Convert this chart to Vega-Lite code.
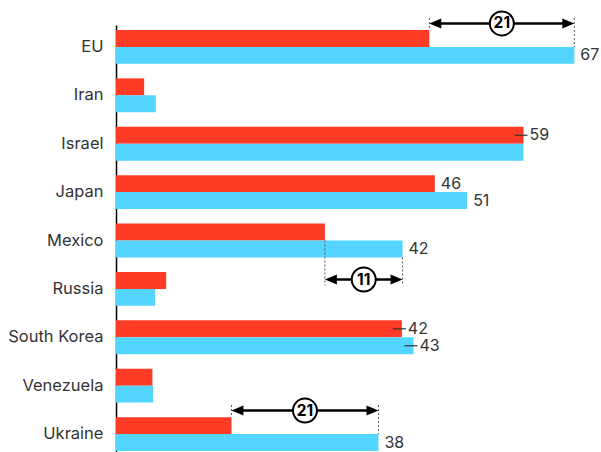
{
  "$schema": "https://vega.github.io/schema/vega-lite/v6.json",
  "width": 481,
  "height": 427,
  "autosize": {"type": "none"},
  "padding": {"top": 25, "left": 116, "right": 4, "bottom": 0},
  "config": {"view": {"stroke": null}, "font": "Inter"},
  "datasets": {
    "bars": [
      {"country": "EU", "series": "A", "value": 45.6, "label": null},
      {"country": "EU", "series": "B", "value": 66.7, "label": "67"},
      {"country": "Iran", "series": "A", "value": 4.1, "label": null},
      {"country": "Iran", "series": "B", "value": 5.8, "label": null},
      {"country": "Israel", "series": "A", "value": 59.3, "label": "59"},
      {"country": "Israel", "series": "B", "value": 59.3, "label": null},
      {"country": "Japan", "series": "A", "value": 46.4, "label": "46"},
      {"country": "Japan", "series": "B", "value": 51.1, "label": "51"},
      {"country": "Mexico", "series": "A", "value": 30.4, "label": null},
      {"country": "Mexico", "series": "B", "value": 41.7, "label": "42"},
      {"country": "Russia", "series": "A", "value": 7.3, "label": null},
      {"country": "Russia", "series": "B", "value": 5.7, "label": null},
      {"country": "South Korea", "series": "A", "value": 41.6, "label": "42"},
      {"country": "South Korea", "series": "B", "value": 43.3, "label": "43"},
      {"country": "Venezuela", "series": "A", "value": 5.3, "label": null},
      {"country": "Venezuela", "series": "B", "value": 5.4, "label": null},
      {"country": "Ukraine", "series": "A", "value": 16.8, "label": null},
      {"country": "Ukraine", "series": "B", "value": 38.2, "label": "38"}
    ],
    "notes": [
      {"country": "EU", "from": 45.6, "to": 66.7, "diff": "21"},
      {"country": "Mexico", "from": 30.4, "to": 41.7, "diff": "11"},
      {"country": "Ukraine", "from": 16.8, "to": 38.2, "diff": "21"}
    ]
  },
  "encoding": {
    "y": {
      "field": "country",
      "type": "nominal",
      "sort": ["EU", "Iran", "Israel", "Japan", "Mexico", "Russia", "South Korea", "Venezuela", "Ukraine"],
      "scale": {"range": [0, 431], "paddingInner": 0.3, "paddingOuter": 0.103},
      "axis": {
        "title": null,
        "ticks": false,
        "domain": true,
        "domainColor": "#000000",
        "domainWidth": 1.5,
        "labelPadding": 13,
        "labelFontSize": 16.5,
        "labelColor": "#333333",
        "labelFont": "Inter"
      }
    }
  },
  "layer": [
    {
      "data": {"name": "bars"},
      "mark": {"type": "bar"},
      "encoding": {
        "yOffset": {"field": "series", "type": "nominal", "sort": ["A", "B"], "scale": {"paddingInner": 0, "paddingOuter": 0}},
        "x": {"field": "value", "type": "quantitative", "scale": {"domain": [0, 70], "nice": false}, "axis": null},
        "color": {"field": "series", "type": "nominal", "scale": {"domain": ["A", "B"], "range": ["#FF3B25", "#54D5FF"]}, "legend": null}
      }
    },
    {
      "data": {"name": "bars"},
      "transform": [{"filter": "(datum.country === 'Israel' && datum.series === 'A') || datum.country === 'South Korea'"}],
      "mark": {"type": "rule", "color": "#333333", "strokeWidth": 1.2, "xOffset": -9, "x2Offset": 4},
      "encoding": {
        "yOffset": {"field": "series", "type": "nominal", "sort": ["A", "B"]},
        "x": {"field": "value", "type": "quantitative"},
        "x2": {"field": "value"}
      }
    },
    {
      "data": {"name": "bars"},
      "transform": [{"filter": "datum.label != null"}],
      "mark": {"type": "text", "align": "left", "baseline": "middle", "dx": 6, "fontSize": 16, "color": "#333333", "font": "Inter"},
      "encoding": {
        "yOffset": {"field": "series", "type": "nominal", "sort": ["A", "B"]},
        "x": {"field": "value", "type": "quantitative"},
        "text": {"field": "label"}
      }
    },
    {
      "data": {"name": "notes"},
      "transform": [{"filter": "datum.country !== 'Mexico'"}],
      "mark": {"type": "rule", "color": "#555555", "strokeWidth": 1, "strokeDash": [2, 2], "yOffset": -29, "y2Offset": -17},
      "encoding": {"x": {"field": "from", "type": "quantitative"}, "y2": {"field": "country"}}
    },
    {
      "data": {"name": "notes"},
      "transform": [{"filter": "datum.country !== 'Mexico'"}],
      "mark": {"type": "rule", "color": "#555555", "strokeWidth": 1, "strokeDash": [2, 2], "yOffset": -29, "y2Offset": 0},
      "encoding": {"x": {"field": "to", "type": "quantitative"}, "y2": {"field": "country"}}
    },
    {
      "data": {"name": "notes"},
      "transform": [{"filter": "datum.country === 'Mexico'"}],
      "mark": {"type": "rule", "color": "#555555", "strokeWidth": 1, "strokeDash": [2, 2], "yOffset": 0, "y2Offset": 45},
      "encoding": {"x": {"field": "from", "type": "quantitative"}, "y2": {"field": "country"}}
    },
    {
      "data": {"name": "notes"},
      "transform": [{"filter": "datum.country === 'Mexico'"}],
      "mark": {"type": "rule", "color": "#555555", "strokeWidth": 1, "strokeDash": [2, 2], "yOffset": 17, "y2Offset": 45},
      "encoding": {"x": {"field": "to", "type": "quantitative"}, "y2": {"field": "country"}}
    },
    {
      "data": {"name": "notes"},
      "transform": [{"filter": "datum.country !== 'Mexico'"}],
      "mark": {"type": "rule", "color": "#000000", "strokeWidth": 2.5, "yOffset": -23.5, "xOffset": 5, "x2Offset": -5},
      "encoding": {"x": {"field": "from", "type": "quantitative"}, "x2": {"field": "to"}}
    },
    {
      "data": {"name": "notes"},
      "transform": [{"filter": "datum.country === 'Mexico'"}],
      "mark": {"type": "rule", "color": "#000000", "strokeWidth": 2.5, "yOffset": 39, "xOffset": 5, "x2Offset": -5},
      "encoding": {"x": {"field": "from", "type": "quantitative"}, "x2": {"field": "to"}}
    },
    {
      "data": {"name": "notes"},
      "transform": [{"filter": "datum.country !== 'Mexico'"}],
      "mark": {"type": "point", "shape": "M0,0L3,-1.25L3,1.25Z", "size": 64, "filled": true, "color": "#000000", "opacity": 1, "strokeWidth": 0, "yOffset": -23.5},
      "encoding": {"x": {"field": "from", "type": "quantitative"}}
    },
    {
      "data": {"name": "notes"},
      "transform": [{"filter": "datum.country !== 'Mexico'"}],
      "mark": {"type": "point", "shape": "M0,0L-3,-1.25L-3,1.25Z", "size": 64, "filled": true, "color": "#000000", "opacity": 1, "strokeWidth": 0, "yOffset": -23.5},
      "encoding": {"x": {"field": "to", "type": "quantitative"}}
    },
    {
      "data": {"name": "notes"},
      "transform": [{"filter": "datum.country === 'Mexico'"}],
      "mark": {"type": "point", "shape": "M0,0L3,-1.25L3,1.25Z", "size": 64, "filled": true, "color": "#000000", "opacity": 1, "strokeWidth": 0, "yOffset": 39},
      "encoding": {"x": {"field": "from", "type": "quantitative"}}
    },
    {
      "data": {"name": "notes"},
      "transform": [{"filter": "datum.country === 'Mexico'"}],
      "mark": {"type": "point", "shape": "M0,0L-3,-1.25L-3,1.25Z", "size": 64, "filled": true, "color": "#000000", "opacity": 1, "strokeWidth": 0, "yOffset": 39},
      "encoding": {"x": {"field": "to", "type": "quantitative"}}
    },
    {
      "data": {"name": "notes"},
      "transform": [
        {"filter": "datum.country !== 'Mexico'"},
        {"fold": ["from", "to"], "as": ["end", "pos"]},
        {"aggregate": [{"op": "mean", "field": "pos", "as": "mid"}], "groupby": ["country", "diff"]}
      ],
      "layer": [
        {
          "mark": {"type": "point", "shape": "circle", "size": 576, "filled": true, "fill": "#FFFFFF", "stroke": "#000000", "strokeWidth": 2, "opacity": 1, "yOffset": -23.5},
          "encoding": {"x": {"field": "mid", "type": "quantitative"}}
        },
        {
          "mark": {"type": "text", "fontSize": 15.5, "fontWeight": "bold", "color": "#000000", "align": "center", "baseline": "middle", "yOffset": -23.5, "font": "Inter"},
          "encoding": {"x": {"field": "mid", "type": "quantitative"}, "text": {"field": "diff"}}
        }
      ]
    },
    {
      "data": {"name": "notes"},
      "transform": [
        {"filter": "datum.country === 'Mexico'"},
        {"fold": ["from", "to"], "as": ["end", "pos"]},
        {"aggregate": [{"op": "mean", "field": "pos", "as": "mid"}], "groupby": ["country", "diff"]}
      ],
      "layer": [
        {
          "mark": {"type": "point", "shape": "circle", "size": 576, "filled": true, "fill": "#FFFFFF", "stroke": "#000000", "strokeWidth": 2, "opacity": 1, "yOffset": 39},
          "encoding": {"x": {"field": "mid", "type": "quantitative"}}
        },
        {
          "mark": {"type": "text", "fontSize": 15.5, "fontWeight": "bold", "color": "#000000", "align": "center", "baseline": "middle", "yOffset": 39, "font": "Inter"},
          "encoding": {"x": {"field": "mid", "type": "quantitative"}, "text": {"field": "diff"}}
        }
      ]
    }
  ]
}
